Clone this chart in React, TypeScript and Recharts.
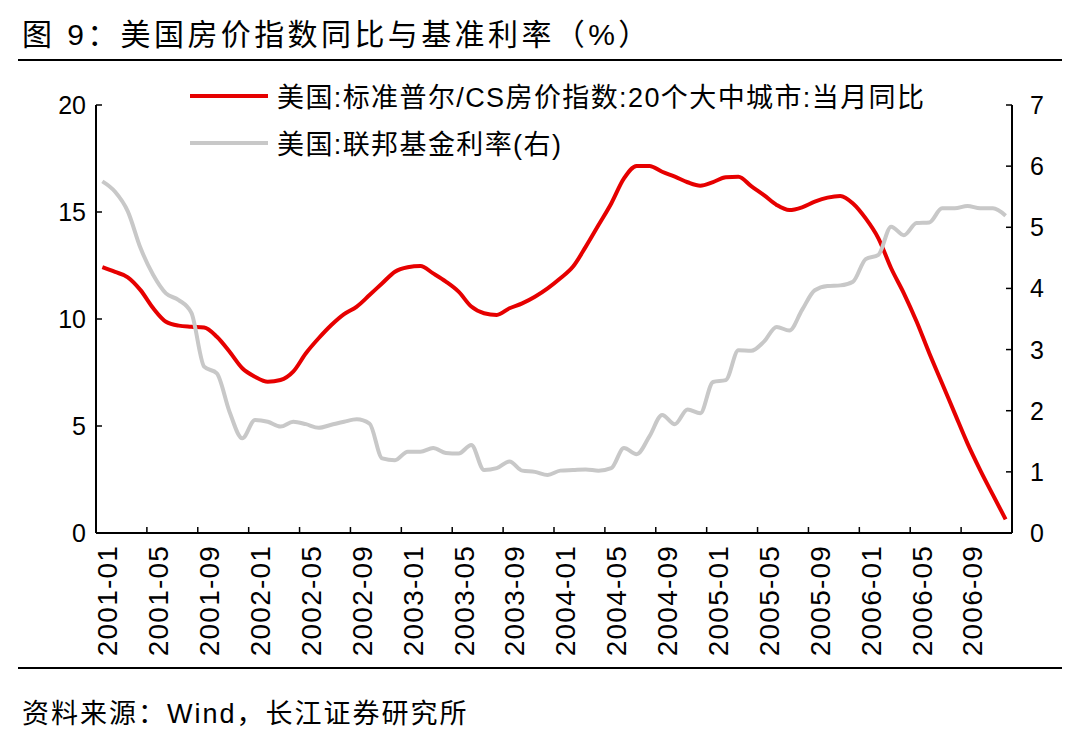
import React from "react";
import { Line, LineChart, XAxis, YAxis } from "recharts";

// 月份（2001-01 ~ 2006-12）
const months = [
  "2001-01", "2001-02", "2001-03", "2001-04", "2001-05", "2001-06", "2001-07", "2001-08", "2001-09", "2001-10", "2001-11", "2001-12",
  "2002-01", "2002-02", "2002-03", "2002-04", "2002-05", "2002-06", "2002-07", "2002-08", "2002-09", "2002-10", "2002-11", "2002-12",
  "2003-01", "2003-02", "2003-03", "2003-04", "2003-05", "2003-06", "2003-07", "2003-08", "2003-09", "2003-10", "2003-11", "2003-12",
  "2004-01", "2004-02", "2004-03", "2004-04", "2004-05", "2004-06", "2004-07", "2004-08", "2004-09", "2004-10", "2004-11", "2004-12",
  "2005-01", "2005-02", "2005-03", "2005-04", "2005-05", "2005-06", "2005-07", "2005-08", "2005-09", "2005-10", "2005-11", "2005-12",
  "2006-01", "2006-02", "2006-03", "2006-04", "2006-05", "2006-06", "2006-07", "2006-08", "2006-09", "2006-10", "2006-11", "2006-12",
];

// 美国:标准普尔/CS房价指数:20个大中城市:当月同比（左轴，%）
const hpiYoy = [
  12.42, 12.2, 11.95, 11.35, 10.5, 9.87, 9.69, 9.64, 9.6, 9.17, 8.47, 7.7,
  7.3, 7.07, 7.15, 7.54, 8.4, 9.1, 9.72, 10.23, 10.58, 11.12, 11.67, 12.21,
  12.42, 12.48, 12.13, 11.75, 11.28, 10.58, 10.27, 10.19, 10.5, 10.73, 11.04, 11.43,
  11.9, 12.45, 13.38, 14.39, 15.4, 16.57, 17.15, 17.15, 16.88, 16.65, 16.39, 16.23,
  16.4, 16.62, 16.65, 16.21, 15.79, 15.33, 15.09, 15.22, 15.48, 15.67, 15.75, 15.4,
  14.7, 13.77, 12.37, 11.2, 9.88, 8.4, 7.0, 5.59, 4.19, 2.94, 1.78, 0.64,
];

// 美国:联邦基金利率（右轴，%）
const fedFunds = [
  5.75, 5.58, 5.26, 4.66, 4.22, 3.92, 3.81, 3.6, 2.72, 2.61, 1.98, 1.55,
  1.85, 1.82, 1.74, 1.82, 1.78, 1.72, 1.77, 1.82, 1.86, 1.79, 1.22, 1.19,
  1.33, 1.33, 1.39, 1.31, 1.3, 1.44, 1.03, 1.06, 1.17, 1.02, 1.0, 0.95,
  1.02, 1.03, 1.04, 1.02, 1.06, 1.39, 1.29, 1.58, 1.93, 1.78, 2.02, 1.96,
  2.47, 2.5, 2.99, 2.98, 3.13, 3.37, 3.31, 3.65, 3.97, 4.04, 4.05, 4.11,
  4.48, 4.55, 5.01, 4.87, 5.07, 5.08, 5.31, 5.31, 5.35, 5.31, 5.31, 5.19,
];

const leftTicks = [0, 5, 10, 15, 20];
const rightTicks = [0, 1, 2, 3, 4, 5, 6, 7];

const HPI_NAME = "美国:标准普尔/CS房价指数:20个大中城市:当月同比";
const FED_NAME = "美国:联邦基金利率(右)";

const RED = "#e60000";
const GRAY = "#c8c8c8";
const FONT = "'Liberation Sans', 'Noto Sans CJK SC', sans-serif";

const W = 1080;
const H = 733;
const PLOT = { left: 96, right: 1012, top: 105, bottom: 533 };
const AXIS_W = 60;
const AXIS_H = 30;
const BAND = (PLOT.right - PLOT.left) / months.length;

const data = months.map((m, i) => ({ idx: i, month: m, hpi: hpiYoy[i], fed: fedFunds[i] }));
const xTicks = data.filter((d) => d.idx % 4 === 0).map((d) => d.idx);

// x 轴：刻度线画在类别之间，标签竖排
function XTick({ x, y, payload }: any) {
  const bx = x - BAND / 2;
  return (
    <g>
      <line x1={bx} x2={bx} y1={y} y2={y - 6} stroke="#000" strokeWidth={1.5} />
      <text
        transform={`translate(${x + 15},${y + 12}) rotate(-90)`}
        textAnchor="end"
        fontSize={28}
        letterSpacing={1.2}
        fontFamily={FONT}
        fill="#000"
      >
        {months[payload.value]}
      </text>
    </g>
  );
}

function LeftTick({ x, y, payload }: any) {
  return (
    <g>
      <line x1={x} x2={x + 6} y1={y} y2={y} stroke="#000" strokeWidth={1.5} />
      <text x={x - 10} y={y + 9} textAnchor="end" fontSize={25} fontFamily={FONT} fill="#000">
        {payload.value}
      </text>
    </g>
  );
}

function RightTick({ x, y, payload }: any) {
  return (
    <g>
      <line x1={x - 6} x2={x} y1={y} y2={y} stroke="#000" strokeWidth={1.5} />
      <text x={x + 18} y={y + 9} textAnchor="start" fontSize={25} fontFamily={FONT} fill="#000">
        {payload.value}
      </text>
    </g>
  );
}

function LegendBox() {
  const items = [
    { name: HPI_NAME, color: RED },
    { name: FED_NAME, color: GRAY },
  ];
  return (
    <div style={{ position: "absolute", left: 190, top: 72, fontSize: 27, letterSpacing: 1.4, color: "#000" }}>
      {items.map((it) => (
        <div key={it.name} style={{ display: "flex", alignItems: "center", height: 47, whiteSpace: "nowrap" }}>
          <span style={{ display: "inline-block", width: 78, height: 4, background: it.color, marginRight: 9 }} />
          <span>{it.name}</span>
        </div>
      ))}
    </div>
  );
}

export default function App() {
  return (
    <div style={{ position: "absolute", left: 0, top: 0, width: W, height: H, background: "#fff", fontFamily: FONT }}>
      <div style={{ position: "absolute", left: 22, top: 10, fontSize: 30, letterSpacing: 3.4, whiteSpace: "nowrap" }}>
        图 9：美国房价指数同比与基准利率（%）
      </div>
      <div style={{ position: "absolute", left: 18, top: 59, width: 1044, height: 2, background: "#000" }} />
      <div style={{ position: "absolute", left: 18, top: 667, width: 1044, height: 2, background: "#000" }} />
      <div style={{ position: "absolute", left: 22, top: 692, fontSize: 27, letterSpacing: 2, whiteSpace: "nowrap" }}>
        资料来源：Wind，长江证券研究所
      </div>
      <div style={{ position: "absolute", left: 0, top: 0 }}>
        <LineChart
          width={W}
          height={H}
          data={data}
          margin={{
            top: PLOT.top,
            right: W - PLOT.right - AXIS_W,
            bottom: H - PLOT.bottom - AXIS_H,
            left: PLOT.left - AXIS_W,
          }}
        >
          <XAxis
            dataKey="idx"
            type="number"
            domain={[-0.5, months.length - 0.5]}
            ticks={xTicks}
            height={AXIS_H}
            tickSize={0}
            tickMargin={0}
            tickLine={false}
            stroke="#000"
            strokeWidth={2}
            tick={<XTick />}
            interval={0}
          />
          <YAxis
            yAxisId="left"
            domain={[0, 20]}
            ticks={leftTicks}
            width={AXIS_W}
            tickSize={0}
            tickMargin={0}
            tickLine={false}
            stroke="#000"
            strokeWidth={2}
            tick={<LeftTick />}
            interval={0}
          />
          <YAxis
            yAxisId="right"
            orientation="right"
            domain={[0, 7]}
            ticks={rightTicks}
            width={AXIS_W}
            tickSize={0}
            tickMargin={0}
            tickLine={false}
            stroke="#000"
            strokeWidth={2}
            tick={<RightTick />}
            interval={0}
          />
          <Line
            yAxisId="left"
            dataKey="hpi"
            name={HPI_NAME}
            type="monotone"
            stroke={RED}
            strokeWidth={4}
            dot={false}
            activeDot={false}
            isAnimationActive={false}
          />
          <Line
            yAxisId="right"
            dataKey="fed"
            name={FED_NAME}
            type="monotone"
            stroke={GRAY}
            strokeWidth={4}
            dot={false}
            activeDot={false}
            isAnimationActive={false}
          />
        </LineChart>
      </div>
      <LegendBox />
    </div>
  );
}
